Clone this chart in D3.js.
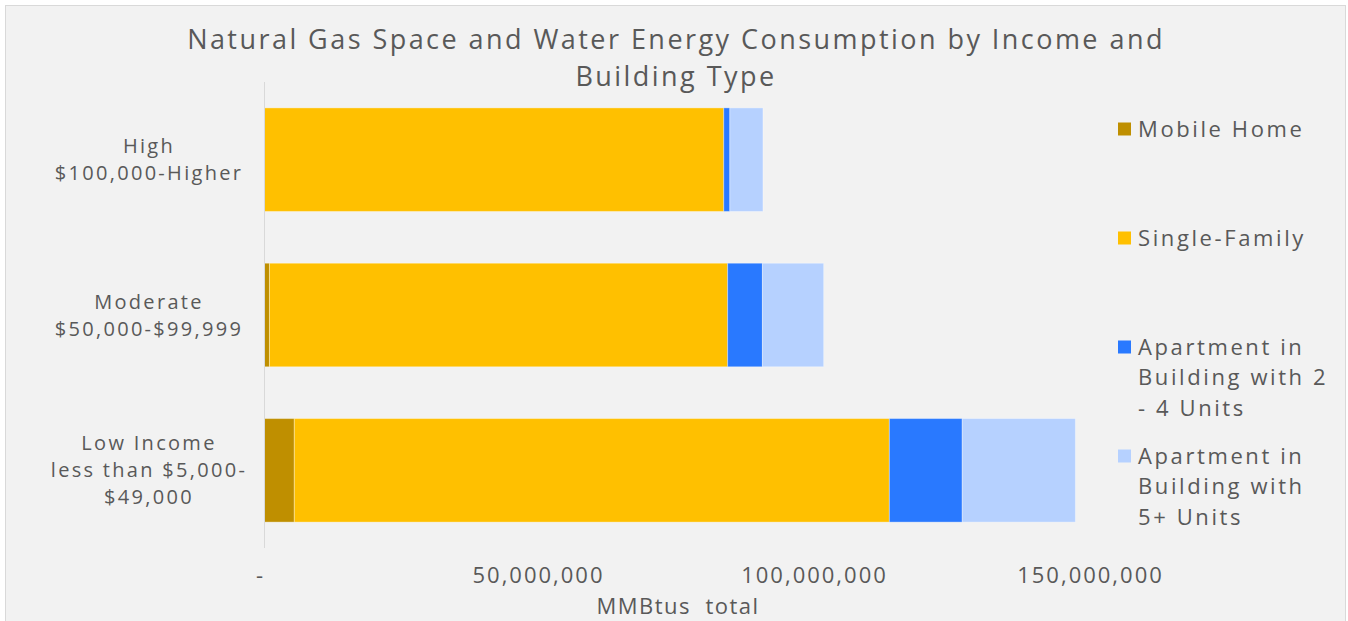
<!DOCTYPE html>
<html>
<head>
<meta charset="utf-8">
<script src="https://cdn.jsdelivr.net/npm/d3@7"></script>
<style>
  html, body { margin: 0; padding: 0; background: #ffffff; }
  svg { display: block; }
  text { font-family: "Open Sans", "Noto Sans", sans-serif; fill: #595959; }
</style>
</head>
<body>
<svg id="chart" width="1348" height="621"></svg>
<script>
// ---- data ----
const categories = ["High|$100,000-Higher", "Moderate|$50,000-$99,999", "Low Income|less than $5,000-|$49,000"];
const seriesNames = ["Mobile Home", "Single-Family", "Apartment in Building with 2 - 4 Units", "Apartment in Building with 5+ Units"];
const legendLines = [["Mobile Home"], ["Single-Family"], ["Apartment in", "Building with 2", "- 4 Units"], ["Apartment in", "Building with", "5+ Units"]];
const mobileHome = [0, 900000, 5400000];
const singleFamily = [83200000, 83000000, 107800000];
const apt2to4 = [1100000, 6300000, 13200000];
const apt5plus = [6000000, 11100000, 20500000];
const xTicks = [0, 50000000, 100000000, 150000000];
const xTickLabels = ["-", "50,000,000", "100,000,000", "150,000,000"];
const colors = ["#BF8F00", "#FFC000", "#2979FF", "#B6D1FF"];
const titleLines = ["Natural Gas Space and Water Energy Consumption by Income and", "Building Type"];
const xAxisTitle = "MMBtus  total";

const svg = d3.select("#chart");
// chart area
svg.append("rect").attr("x", 5.5).attr("y", 5.5).attr("width", 1340).attr("height", 640)
  .attr("fill", "#f2f2f2").attr("stroke", "#d9d9d9").attr("stroke-width", 1);

const plot = { left: 264, right: 1092, top: 82, bottom: 548 };

const x = d3.scaleLinear().domain([0, 150000000]).range([plot.left, plot.right]);
const y = d3.scaleBand().domain(categories).range([plot.top, plot.bottom]).paddingInner(1/3).paddingOuter(1/6);

const table = categories.map((c, i) => ({
  cat: c,
  "Mobile Home": mobileHome[i],
  "Single-Family": singleFamily[i],
  "Apartment in Building with 2 - 4 Units": apt2to4[i],
  "Apartment in Building with 5+ Units": apt5plus[i]
}));
const stacked = d3.stack().keys(seriesNames)(table);

const g = svg.append("g");
stacked.forEach((layer, si) => {
  g.selectAll(null).data(layer).enter().append("rect")
    .attr("x", d => x(d[0]) + 0.5)
    .attr("y", d => y(d.data.cat))
    .attr("width", d => Math.max(0, x(d[1]) - x(d[0])))
    .attr("height", y.bandwidth())
    .attr("fill", colors[si])
    .attr("stroke", "rgba(255,255,255,0.35)")
    .attr("stroke-width", d => (d[1] - d[0]) > 0 ? 1 : 0);
});

// vertical axis line
svg.append("line").attr("x1", plot.left + 0.5).attr("x2", plot.left + 0.5)
  .attr("y1", plot.top).attr("y2", plot.bottom)
  .attr("stroke", "#d9d9d9").attr("stroke-width", 1);

// x tick labels
const xAxis = d3.axisBottom(x).tickValues(xTicks).tickFormat((d, i) => xTickLabels[i]).tickSize(0).tickPadding(0);
const xg = svg.append("g").attr("transform", `translate(0, 567)`).call(xAxis);
xg.select(".domain").remove();
xg.selectAll("text")
  .style("font-family", "'Open Sans', sans-serif")
  .style("font-size", "22px")
  .style("letter-spacing", "2px")
  .style("fill", "#595959")
  .attr("dy", "0.71em")
  .attr("dx", (d, i) => i === 0 ? -4 : -2);

// y category labels
const yg = svg.append("g");
categories.forEach(c => {
  const lines = c.split("|");
  const cy = y(c) + y.bandwidth() / 2;
  const lh = 27;
  const t = yg.append("text").attr("text-anchor", "middle").style("font-size", "20px").style("letter-spacing", "2.3px");
  lines.forEach((ln, k) => {
    t.append("tspan").attr("x", 149).attr("y", cy + (k - (lines.length - 1) / 2) * lh).attr("dy", "0.35em").text(ln);
  });
});

// title (two separate lines)
titleLines.forEach((ln, k) => {
  svg.append("text").attr("text-anchor", "middle").style("font-size", "27px").style("letter-spacing", "2.45px")
    .attr("x", 676).attr("y", 40 + k * 37).attr("dy", "0.35em").text(ln);
});

// axis title
svg.append("text").attr("x", 678).attr("y", 606).attr("dy", "0.35em").attr("text-anchor", "middle")
  .style("font-size", "22px").style("letter-spacing", "1.5px").style("white-space", "pre").text(xAxisTitle);

// legend
const legendY = [129, 238, 347, 456];
const lg = svg.append("g");
legendLines.forEach((lines, i) => {
  lg.append("rect").attr("x", 1118).attr("y", legendY[i] - 6.5).attr("width", 13).attr("height", 13).attr("fill", colors[i]);
  const t = lg.append("text").style("font-size", "22px").style("letter-spacing", "2.6px");
  lines.forEach((ln, k) => {
    t.append("tspan").attr("x", 1138).attr("y", legendY[i] + k * 30.5).attr("dy", "0.35em").text(ln);
  });
});
</script>
</body>
</html>
